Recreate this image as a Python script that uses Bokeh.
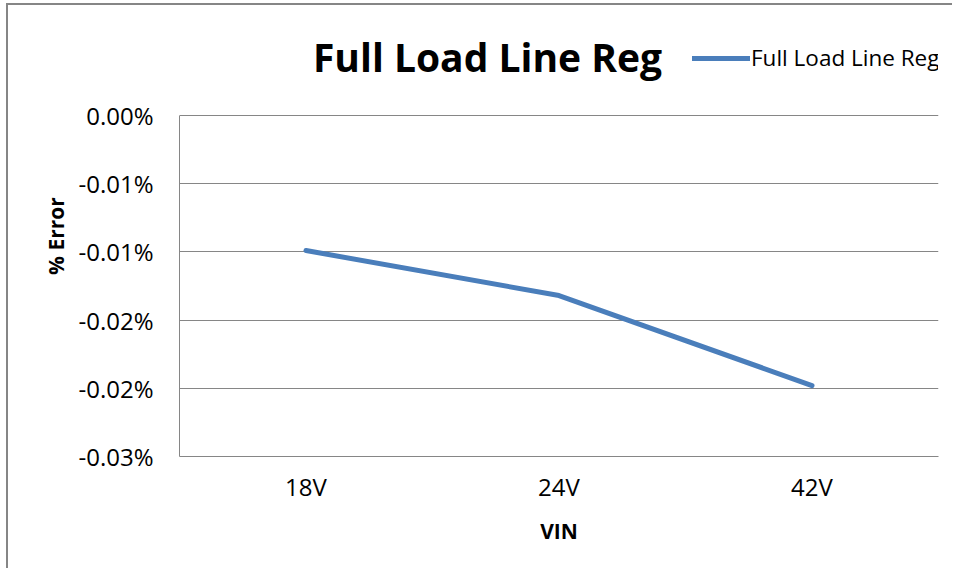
from bokeh.plotting import figure
from bokeh.models import FactorRange, Range1d, FixedTicker, Label, Legend, LegendItem
from bokeh.embed import file_html
from bokeh.resources import INLINE

# ---- data ----
categories = ["18V", "24V", "42V"]
error_pct = [-0.0099, -0.0132, -0.0198]          # % error values
y_ticks = [0.0, -0.005, -0.01, -0.015, -0.02, -0.025]
y_tick_labels = ["0.00%", "-0.01%", "-0.01%", "-0.02%", "-0.02%", "-0.03%"]
series_name = "Full Load Line Reg"
chart_title = "Full Load Line Reg"
x_title = "VIN"
y_title = "% Error"

FONT = "Open Sans"
GRAY = "#868686"
BLUE = "#4A7EBB"

# plot area of the data: 341 px tall; extra 100 px above it host title + legend
DATA_PX = 341
EXTRA_PX = 100
y_lo, y_hi = min(y_ticks), max(y_ticks)
y_top = y_hi + (y_hi - y_lo) * EXTRA_PX / DATA_PX

p = figure(
    width=946, height=565,
    x_range=FactorRange(*categories, range_padding=0),
    y_range=Range1d(y_lo, y_top),
    output_backend="svg", toolbar_location=None, tools="",
    min_border_left=171, min_border_right=16,
    min_border_top=10, min_border_bottom=114,
)
p.outline_line_color = None
p.background_fill_color = "white"
p.border_fill_color = "white"
p.styles = {"margin-left": "6px", "margin-top": "3px",
            "border-left": "2px solid #868686", "border-top": "2px solid #868686"}

r = p.line(categories, error_pct, line_color=BLUE, line_width=5,
           line_cap="round", line_join="round")

# grid
p.xgrid.grid_line_color = None
p.ygrid.grid_line_color = GRAY
p.ygrid.grid_line_width = 1
p.ygrid.ticker = FixedTicker(ticks=y_ticks)

# y axis
p.yaxis.ticker = FixedTicker(ticks=y_ticks)
p.yaxis.bounds = (y_lo, y_hi)
p.yaxis.major_label_overrides = {t: lab for t, lab in zip(y_ticks, y_tick_labels)}
p.yaxis.axis_line_color = GRAY
p.yaxis.major_tick_line_color = None
p.yaxis.minor_tick_line_color = None
p.yaxis.major_label_standoff = 20
p.yaxis.major_label_text_font = FONT
p.yaxis.major_label_text_font_size = "24px"
p.yaxis.major_label_text_color = "black"
p.yaxis.axis_label = y_title
p.yaxis.axis_label_text_font = FONT
p.yaxis.axis_label_text_font_size = "21px"
p.yaxis.axis_label_text_font_style = "bold"
p.yaxis.axis_label_text_color = "black"
p.yaxis.axis_label_standoff = 5

# x axis
p.xaxis.axis_line_color = GRAY
p.xaxis.major_tick_line_color = None
p.xaxis.minor_tick_line_color = None
p.xaxis.major_label_standoff = 7
p.xaxis.major_label_text_font = FONT
p.xaxis.major_label_text_font_size = "24px"
p.xaxis.major_label_text_color = "black"
p.xaxis.axis_label = x_title
p.xaxis.axis_label_text_font = FONT
p.xaxis.axis_label_text_font_size = "21px"
p.xaxis.axis_label_text_font_style = "bold"
p.xaxis.axis_label_text_color = "black"
p.xaxis.axis_label_standoff = 11

# title
title = Label(x=308, y=400, x_units="screen", y_units="screen", text=chart_title,
              text_font=FONT, text_font_size="39px", text_font_style="bold",
              text_color="black", text_align="center", text_baseline="alphabetic")
p.add_layout(title)

# legend
legend = Legend(items=[LegendItem(label=series_name, renderers=[r])],
                location=(513, 383), orientation="horizontal",
                glyph_width=58, glyph_height=24, label_height=24,
                label_standoff=1, padding=0, margin=0, spacing=0,
                border_line_color=None, background_fill_alpha=0,
                label_text_font=FONT, label_text_font_size="22.5px",
                label_text_color="black")
p.add_layout(legend)

open("out.html", "w").write(file_html(p, INLINE))
